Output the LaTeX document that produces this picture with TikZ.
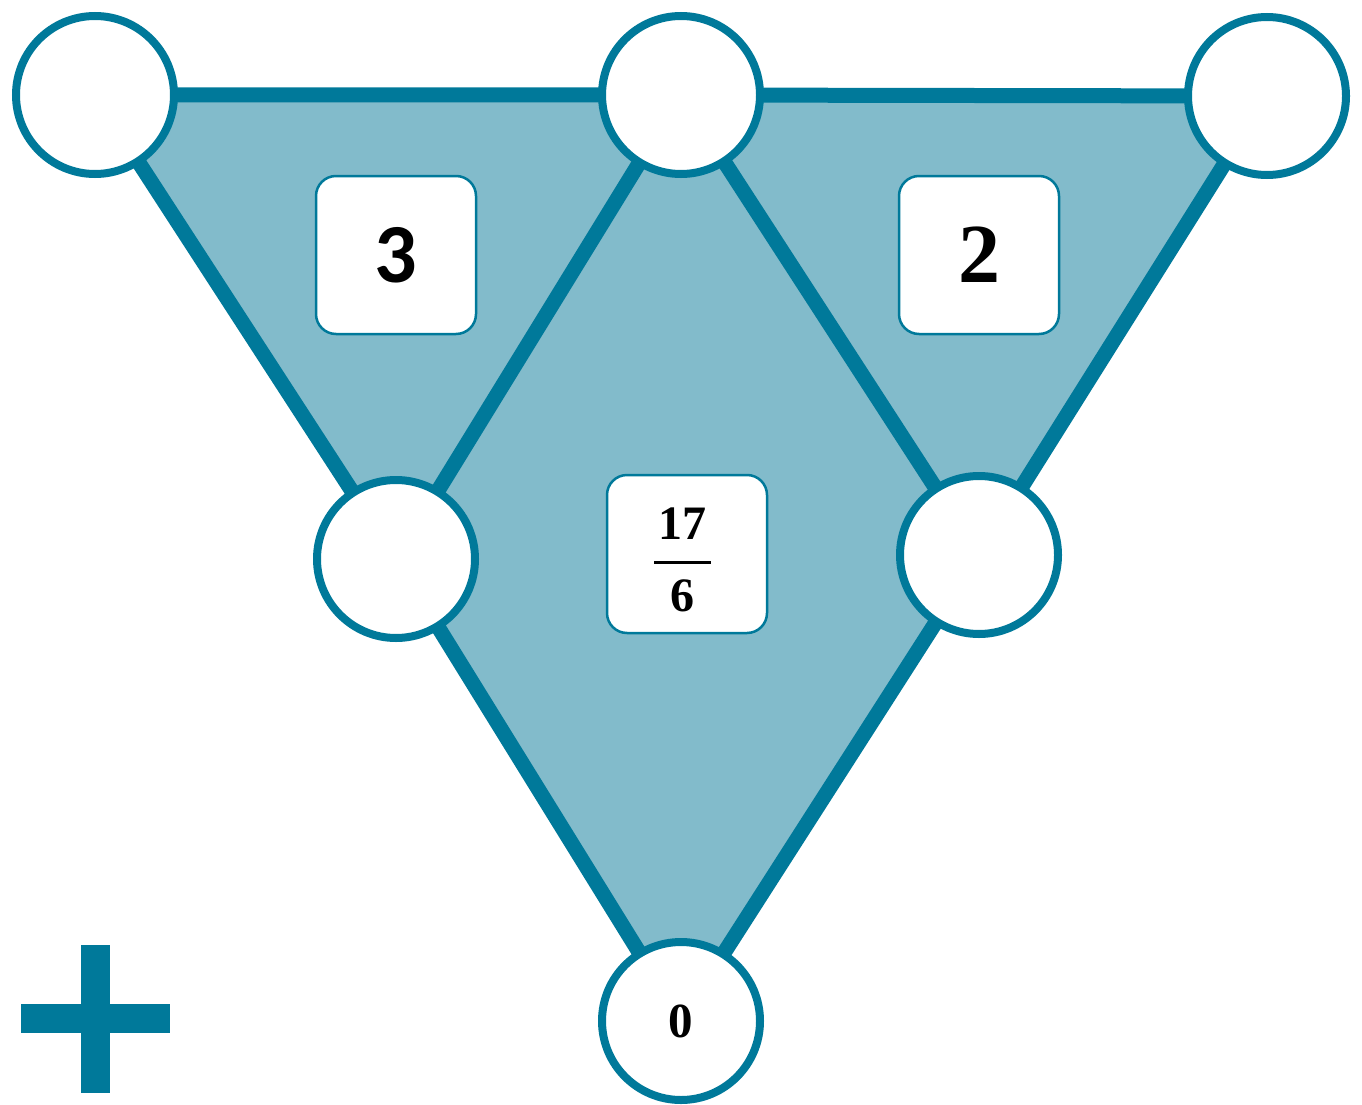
\documentclass[tikz,border=0pt]{standalone}
\usepackage{fontspec}
\setmainfont{Liberation Serif}
\newfontfamily\carl{Carlito}
\definecolor{teal1}{HTML}{00799A}
\definecolor{tealfill}{HTML}{82BBCB}
\begin{document}
\begin{tikzpicture}[x=1pt,y=-1pt,
  vert/.style={circle,draw=teal1,line width=8pt,fill=white,minimum size=158pt,inner sep=0pt},
  edge/.style={draw=teal1,line width=15pt},
  valbox/.style={rounded corners=20pt,draw=teal1,line width=2.5pt,fill=white,minimum width=160pt,minimum height=158pt,inner sep=0pt},
  bigdig/.style={font=\fontsize{84}{90}\selectfont\bfseries},
  fracdig/.style={font=\fontsize{48}{50}\selectfont\bfseries,inner sep=0pt}]
\useasboundingbox (0,0) rectangle (1362,1105);
\coordinate (A) at (95,95);
\coordinate (B) at (681,95);
\coordinate (C) at (1267,96);
\coordinate (D) at (396,559);
\coordinate (E) at (979,555);
\coordinate (F) at (681,1020);
\fill[tealfill] (A) -- (B) -- (C) -- (E) -- (F) -- (D) -- cycle;
\draw[edge] (A) -- (B) -- (C);
\draw[edge] (A) -- (D) -- (B) -- (E) -- (C);
\draw[edge] (D) -- (F) -- (E);
\node[vert] (nA) at (A) {};
\node[vert] (nB) at (B) {};
\node[vert] (nC) at (C) {};
\node[vert] (nD) at (D) {};
\node[vert] (nE) at (E) {};
\node[vert,font=\fontsize{49}{50}\selectfont\bfseries] (nF) at (681,1021) {0};
\node[valbox,bigdig] (b3) at (396,255) {\carl 3};
\node[valbox,bigdig] (b2) at (979,255) {2};
\node[valbox] (b17) at (687,554) {};
\node[fracdig] (n17) at (682,524) {17};
\node[fracdig] (n6) at (682,596) {6};
\coordinate (fl) at (654,562);
\coordinate (fr) at (711,562);
\draw[line width=3pt] (fl) -- (fr);
\fill[teal1] (21,1004) rectangle (170,1033);
\fill[teal1] (81,945) rectangle (110,1093);
\end{tikzpicture}
\end{document}
